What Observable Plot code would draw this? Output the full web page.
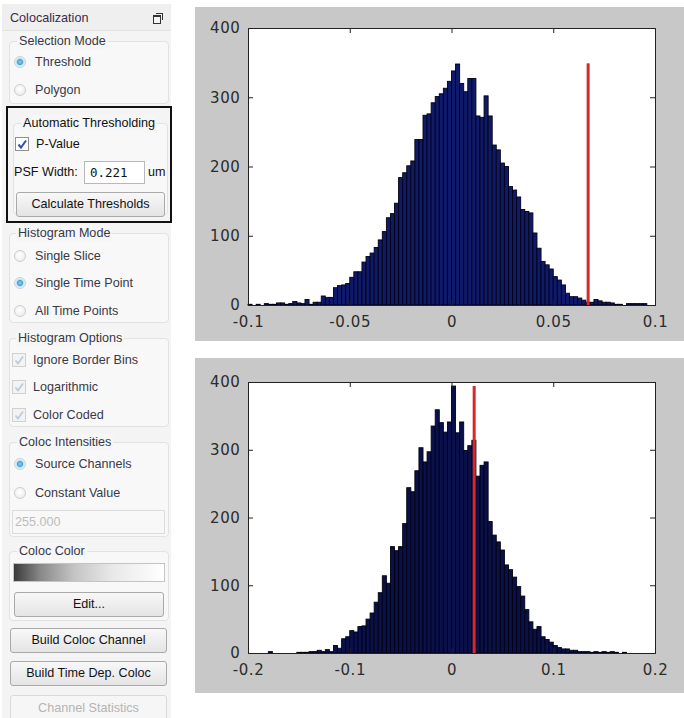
<!DOCTYPE html>
<html>
<head>
<meta charset="utf-8">
<script src="https://cdn.jsdelivr.net/npm/d3@7"></script>
<script src="https://cdn.jsdelivr.net/npm/@observablehq/plot@0.6"></script>
<style>
  body { margin:0; width:684px; height:718px; overflow:hidden; background:#fff; position:relative;
         font-family:"Liberation Sans", Arial, sans-serif; }
  .panel { position:absolute; left:2px; top:4px; width:169px; height:714px; background:#f4f4f4; }
  .hdr { position:absolute; left:2px; top:4px; width:169px; height:26px; background:#efefef; border-bottom:1px solid #e2e2e2; }
  .grp { position:absolute; border:1px solid #e2e2e2; border-radius:4px; background:#f8f8f8; box-sizing:border-box; }
  .t { position:absolute; font-size:12.6px; line-height:16px; color:#383848; white-space:nowrap; }
  .blk { color:#111; }
  .lbl { background:#f6f6f6; padding:0 2px; }
  .radio { position:absolute; width:12px; height:12px; border-radius:50%; border:1px solid #cdcdcd; box-sizing:border-box;
           background:radial-gradient(circle at 45% 40%, #ffffff 0, #efefef 70%, #e2e2e2 100%); }
  .radio.on { border-color:#c3d3de; background:radial-gradient(circle at 50% 50%, #8fd0f0 0, #4aa3d3 2.6px, #c7e2f2 3.6px, #f6f9fb 5.5px); }
  .chk { position:absolute; width:14px; height:14px; box-sizing:border-box; border:1px solid #8e8e8e; background:#fff; }
  .chk.dis { border-color:#d0d0d0; background:#f3f3f3; }
  .btn { position:absolute; box-sizing:border-box; border:1px solid #a9a9a9; border-radius:3px;
         background:linear-gradient(#f8f8f8, #e4e4e4); font-size:12.6px; color:#111; text-align:center; }
  .btn.dis { border-color:#dadada; background:#f6f6f6; color:#b4b4b4; }
  .box { position:absolute; box-sizing:border-box; border:1px solid #cfcfcf; background:#fff; }
  #top { position:absolute; left:195px; top:7px; }
  #bot { position:absolute; left:195px; top:358px; }
</style>
</head>
<body>
<div class="panel"></div>
<div class="hdr"></div>
<div class="t" style="left:10px;top:10px;color:#3a2a4a;">Colocalization</div>
<div style="position:absolute;left:156px;top:13px;width:6px;height:6px;border:1.5px solid #333;border-bottom:none;border-left:none;"></div>
<div style="position:absolute;left:153px;top:15px;width:6px;height:6px;border:1.5px solid #333;border-top-width:2.5px;background:#f4f4f4;"></div>

<div class="grp" style="left:9px;top:41px;width:160px;height:63px;"></div>
<div class="t lbl" style="left:17px;top:33px;">Selection Mode</div>
<div class="radio on" style="left:14px;top:56px;"></div>
<div class="t" style="left:35px;top:54px;">Threshold</div>
<div class="radio" style="left:14px;top:84px;"></div>
<div class="t" style="left:35px;top:82px;">Polygon</div>

<div style="position:absolute;left:6px;top:106px;width:166px;height:117px;border:2px solid #111;box-sizing:border-box;background:#f4f4f4;"></div>
<div class="grp" style="left:13px;top:123px;width:155px;height:92px;"></div>
<div class="t lbl blk" style="left:21px;top:115px;">Automatic Thresholding</div>
<div class="chk" style="left:15px;top:137px;"><svg width="12" height="12" style="position:absolute;left:0;top:0"><path d="M2.5 6.5 L5 9.5 L10 2.5" fill="none" stroke="#3050b8" stroke-width="2"/></svg></div>
<div class="t blk" style="left:36px;top:136px;">P-Value</div>
<div class="t blk" style="left:14px;top:164px;">PSF Width:</div>
<div class="box" style="left:84px;top:161px;width:61px;height:23px;border-color:#b8b8b8;"></div>
<div class="t blk" style="left:90px;top:165px;font-family:'DejaVu Sans Mono',monospace;font-size:12.5px;">0.221</div>
<div class="t blk" style="left:148px;top:164px;">um</div>
<div class="btn" style="left:16px;top:192px;width:149px;height:25px;line-height:23px;">Calculate Thresholds</div>

<div class="grp" style="left:9px;top:233px;width:160px;height:90px;"></div>
<div class="t lbl" style="left:16px;top:225px;">Histogram Mode</div>
<div class="radio" style="left:14px;top:250px;"></div>
<div class="t" style="left:35px;top:248px;">Single Slice</div>
<div class="radio on" style="left:14px;top:277px;"></div>
<div class="t" style="left:35px;top:275px;">Single Time Point</div>
<div class="radio" style="left:14px;top:305px;"></div>
<div class="t" style="left:35px;top:303px;">All Time Points</div>

<div class="grp" style="left:9px;top:338px;width:160px;height:89px;"></div>
<div class="t lbl" style="left:16px;top:330px;">Histogram Options</div>
<div class="chk dis" style="left:12px;top:353px;"><svg width="12" height="12" style="position:absolute;left:0;top:0"><path d="M2.5 6.5 L5 9.5 L10 2.5" fill="none" stroke="#bccbdb" stroke-width="1.8"/></svg></div>
<div class="t" style="left:33px;top:352px;">Ignore Border Bins</div>
<div class="chk dis" style="left:12px;top:380px;"><svg width="12" height="12" style="position:absolute;left:0;top:0"><path d="M2.5 6.5 L5 9.5 L10 2.5" fill="none" stroke="#bccbdb" stroke-width="1.8"/></svg></div>
<div class="t" style="left:33px;top:379px;">Logarithmic</div>
<div class="chk dis" style="left:12px;top:408px;"><svg width="12" height="12" style="position:absolute;left:0;top:0"><path d="M2.5 6.5 L5 9.5 L10 2.5" fill="none" stroke="#bccbdb" stroke-width="1.8"/></svg></div>
<div class="t" style="left:33px;top:407px;">Color Coded</div>

<div class="grp" style="left:9px;top:442px;width:160px;height:95px;"></div>
<div class="t lbl" style="left:17px;top:434px;">Coloc Intensities</div>
<div class="radio on" style="left:14px;top:458px;"></div>
<div class="t" style="left:35px;top:456px;">Source Channels</div>
<div class="radio" style="left:14px;top:487px;"></div>
<div class="t" style="left:35px;top:485px;">Constant Value</div>
<div class="box" style="left:12px;top:510px;width:153px;height:24px;border-color:#dcdcdc;background:#f8f8f8;"></div>
<div class="t" style="left:15px;top:514px;color:#bcbcbc;">255.000</div>

<div class="grp" style="left:9px;top:551px;width:160px;height:70px;"></div>
<div class="t lbl" style="left:17px;top:543px;">Coloc Color</div>
<div style="position:absolute;left:13px;top:563px;width:152px;height:19px;box-sizing:border-box;border:1px solid #c4c4c4;background:linear-gradient(to right,#3a3a3a 0%,#8a8a8a 18%,#c4c4c4 40%,#e8e8e8 65%,#ffffff 100%);"></div>
<div class="btn" style="left:14px;top:592px;width:150px;height:25px;line-height:23px;">Edit...</div>

<div class="btn" style="left:10px;top:628px;width:157px;height:25px;line-height:23px;">Build Coloc Channel</div>
<div class="btn" style="left:10px;top:661px;width:157px;height:25px;line-height:23px;">Build Time Dep. Coloc</div>
<div class="btn dis" style="left:10px;top:695px;width:157px;height:26px;line-height:24px;">Channel Statistics</div>

<div id="top"></div>
<div id="bot"></div>

<script>
// ---- data ----
const yTicks = [0, 100, 200, 300, 400];

const topXTicks = [-0.1, -0.05, 0, 0.05, 0.1];
const topBinStart = -0.1;
const topBinWidth = 0.002;
const topCounts = [
  1,0,1,0,2,1,1,3,3,1,
  2,5,3,2,8,1,4,4,13,11,
  11,25,28,29,31,40,48,48,62,70,
  75,83,94,106,126,132,147,184,191,201,
  208,239,239,274,276,292,301,305,313,323,
  338,348,320,308,327,327,273,271,302,273,
  231,224,205,200,171,166,156,138,135,133,
  104,82,63,58,52,41,36,29,17,12,
  12,10,7,4,4,8,6,4,4,3,
  1,1,0,2,2,2,2,2,0,0
];
const topThreshold = 0.0669;
const topThresholdTop = 349;

const botXTicks = [-0.2, -0.1, 0, 0.1, 0.2];
const botBinStart = -0.2;
const botBinWidth = 0.004;
const botCounts = [
  0,0,0,0,0,2,0,0,0,0,
  0,0,1,1,1,2,2,4,2,5,
  2,11,7,21,24,33,31,39,40,50,
  59,75,89,114,103,157,151,157,191,244,
  238,269,303,282,297,335,359,340,326,341,
  394,325,341,299,306,314,261,277,282,194,
  174,164,152,130,123,112,98,84,64,46,
  35,39,24,20,16,11,8,6,6,4,
  4,2,2,2,1,2,1,2,1,2,
  1,0,1,0,0,0,0,0,0,0
];
const botThreshold = 0.0218;
const botThresholdTop = 394;

function bins(counts, start, w) {
  return counts.map((c, i) => ({x1: start + i * w, x2: start + (i + 1) * w, count: c}));
}

function histo({counts, start, w, xTicks, thr, thrTop, height, mt, mb, fill}) {
  const width = 489, ml = 53, mr = 29;
  const W = width - ml - mr, H = height - mt - mb;
  return Plot.plot({
    width, height, marginLeft: ml, marginRight: mr, marginTop: mt, marginBottom: mb,
    x: {domain: [xTicks[0], xTicks[xTicks.length - 1]]},
    y: {domain: [0, 400]},
    style: {background: "#c8c8c8", fontFamily: "DejaVu Sans", fontSize: "15px", color: "#2c2c2c", letterSpacing: "0.6px"},
    marks: [
      Plot.frame({fill: "white"}),
      Plot.rectY(bins(counts, start, w), {x1: "x1", x2: "x2", y: "count", fill, stroke: "#02020e", strokeWidth: 0.9}),
      Plot.ruleX([{x: thr, top: thrTop}], {x: "x", y1: 0, y2: "top", stroke: "#d82828", strokeWidth: 3}),
      Plot.tickX(xTicks, {x: d => d, insetTop: H - 5, stroke: "#222"}),
      Plot.tickX(xTicks, {x: d => d, insetBottom: H - 5, stroke: "#222"}),
      Plot.tickY(yTicks, {y: d => d, insetRight: W - 5, stroke: "#222"}),
      Plot.tickY(yTicks, {y: d => d, insetLeft: W - 5, stroke: "#222"}),
      Plot.axisX(xTicks, {tickSize: 0, tickPadding: 11, tickFormat: d => String(d)}),
      Plot.axisY(yTicks, {tickSize: 0, tickPadding: 8}),
      Plot.frame({stroke: "#222"})
    ]
  });
}

document.getElementById("top").append(histo({
  counts: topCounts, start: topBinStart, w: topBinWidth, xTicks: topXTicks,
  thr: topThreshold, thrTop: topThresholdTop, height: 334, mt: 21, mb: 36, fill: "#101a6c"
}));
document.getElementById("bot").append(histo({
  counts: botCounts, start: botBinStart, w: botBinWidth, xTicks: botXTicks,
  thr: botThreshold, thrTop: botThresholdTop, height: 335, mt: 24, mb: 40, fill: "#0a104c"
}));
</script>
</body>
</html>
